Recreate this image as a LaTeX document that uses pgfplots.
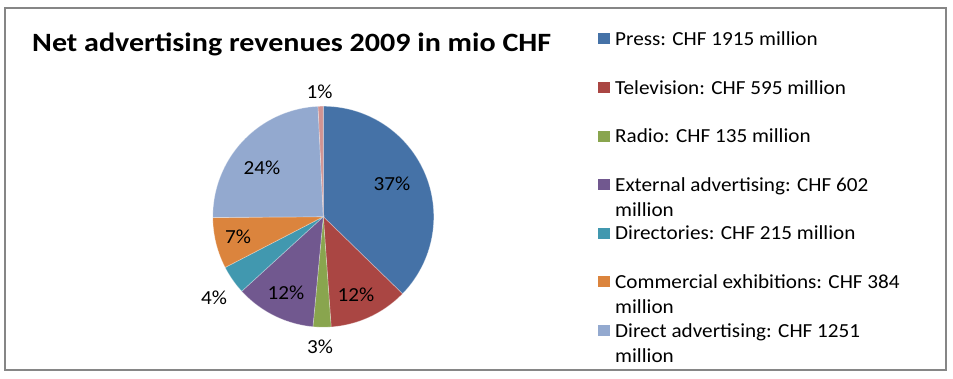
\documentclass[border=0pt]{standalone}
\usepackage{fontspec}
\setmainfont{Carlito}
\usepackage{graphicx}
\usepackage{pgfplots}
\usepackage{pgfplotstable}
\pgfplotsset{compat=1.18}

\definecolor{pie0}{HTML}{4572A7}
\definecolor{pie1}{HTML}{AA4643}
\definecolor{pie2}{HTML}{89A54E}
\definecolor{pie3}{HTML}{71588F}
\definecolor{pie4}{HTML}{4198AF}
\definecolor{pie5}{HTML}{DB843D}
\definecolor{pie6}{HTML}{93A9CF}
\definecolor{pie7}{HTML}{D19392}
\definecolor{framegray}{HTML}{868686}

% Net advertising revenues 2009, mio CHF
\pgfplotstableread{
label value
Press 1915
Television 595
Radio 135
External 602
Directories 215
Commercial 384
Direct 1251
Other 39
}\piedata

\newcommand\lgfont{\fontsize{20}{25.5}\selectfont}
\newcommand\wide[1]{\scalebox{1.063}[1]{#1}}

\begin{document}
\begin{tikzpicture}
% cumulative angles (degrees, clockwise from 12 o'clock)
\gdef\pietotal{0}
\foreach \i in {0,...,7}{%
  \pgfplotstablegetelem{\i}{value}\of\piedata
  \pgfmathparse{\pietotal+\pgfplotsretval}\xdef\pietotal{\pgfmathresult}%
}
\gdef\piecum{0}
\foreach \i in {0,...,7}{%
  \pgfplotstablegetelem{\i}{value}\of\piedata
  \pgfmathparse{\piecum/\pietotal*360}\expandafter\xdef\csname pieS\i\endcsname{\pgfmathresult}%
  \pgfmathparse{\piecum+\pgfplotsretval}\xdef\piecum{\pgfmathresult}%
  \pgfmathparse{\piecum/\pietotal*360}\expandafter\xdef\csname pieE\i\endcsname{\pgfmathresult}%
}
\useasboundingbox (0,0) rectangle (953bp,379bp);
\begin{axis}[
  at={(0,0)}, anchor=south west,
  width=953bp, height=379bp, scale only axis,
  xmin=0, xmax=953, ymin=0, ymax=379, y dir=reverse,
  hide axis, clip=false,
]
% wedges
\pgfplotsforeachungrouped \i in {0,...,7}{%
  \edef\cmd{\noexpand\addplot[fill=pie\i, draw=white, draw opacity=0.35, line width=0.7bp,
     domain=\csname pieS\i\endcsname:\csname pieE\i\endcsname,
     samples=90, variable=\noexpand\t]
     ({323.3+110.5*sin(\noexpand\t)},{216.7-110.5*cos(\noexpand\t)}) -- (323.3,216.7) -- cycle;}%
  \cmd
}
\end{axis}
% overlay in pixel coordinates (y downward)
\begin{scope}[x=1bp, y=-1bp, shift={(0,379bp)}]
% frame
\draw[framegray, line width=2bp] (5.3,8.3) rectangle (945.7,370);
% percentage labels
\tikzset{pl/.style={font=\lgfont, inner sep=0pt}}
\node[pl] at (392,184) {\wide{37\%}};
\node[pl] at (356,295) {\wide{12\%}};
\node[pl] at (320,347) {\wide{3\%}};
\node[pl] at (286,293) {\wide{12\%}};
\node[pl] at (214,298) {\wide{4\%}};
\node[pl] at (238,237) {\wide{7\%}};
\node[pl] at (262,168) {\wide{24\%}};
\node[pl] at (319.5,92) {\wide{1\%}};
% title
\node[anchor=base west, inner sep=0pt, font=\fontsize{26.5}{30}\selectfont\bfseries] at (32,51.5)
  {\resizebox{519bp}{\height}{Net advertising revenues 2009 in mio CHF}};
% legend
\foreach \cc/\txt [count=\j from 0] in {
  pie0/{Press: CHF 1915 million},
  pie1/{Television: CHF 595 million},
  pie2/{Radio: CHF 135 million},
  pie3/{External advertising: CHF 602\\million},
  pie4/{Directories: CHF 215 million},
  pie5/{Commercial exhibitions: CHF 384\\million},
  pie6/{Direct advertising: CHF 1251\\million}}{
  \pgfmathsetmacro\yb{45.5+48.6*\j}
  \fill[\cc] (597.5,\yb-12) rectangle (609.5,\yb-1);
  \node[anchor=base west, inner sep=0pt, font=\lgfont] at (615,\yb)
    {\wide{\begin{tabular}[t]{@{}l@{}}\txt\end{tabular}}};
}
\end{scope}
\end{tikzpicture}
\end{document}
